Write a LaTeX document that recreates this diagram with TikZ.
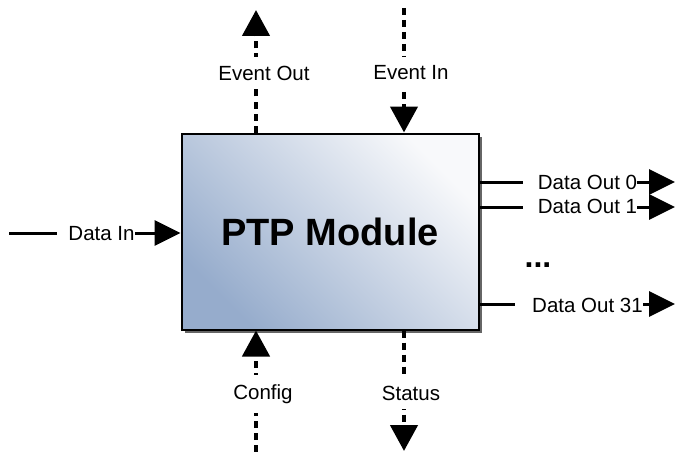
\documentclass[tikz,border=0pt]{standalone}
\usepackage{fontspec}
\setmainfont{Liberation Sans}
\usetikzlibrary{arrows.meta,shadows}
\definecolor{boxdark}{RGB}{150,172,204}
\definecolor{boxmid}{RGB}{208,218,232}
\definecolor{boxlight}{RGB}{248,249,251}
\begin{document}
\begin{tikzpicture}[x=1pt,y=-1pt,
  lbl/.style={fill=white, inner xsep=0pt, inner ysep=4pt, font=\fontsize{20.5}{24}\selectfont},
  vlbl/.style={fill=white, inner xsep=3pt, inner ysep=9pt, font=\fontsize{20.5}{24}\selectfont},
  dasharrow/.style={line width=4.5pt, dash pattern=on 7pt off 5pt, -{Triangle[length=26pt,width=27pt]}},
  solidarrow/.style={line width=3pt, -{Triangle[length=26pt,width=25pt]}},
]
\useasboundingbox (0,0) rectangle (675,452);
\node[draw, line width=2pt, minimum width=297pt, minimum height=196pt,
      top color=boxlight, middle color=boxmid, bottom color=boxdark, shading angle=-45,
      drop shadow={shadow xshift=3pt, shadow yshift=-3pt, fill=black!60, opacity=1},
      font=\fontsize{38}{44}\selectfont\bfseries] (box) at (330,231.5) {PTP Module};
% top
\coordinate (eoT) at (256,10);
\draw[dasharrow] (box.north -| eoT) -- (eoT);
\node[vlbl] (leo) at (264,73) {Event Out};
\coordinate (eiS) at (404,8);
\draw[dasharrow] (eiS) -- (eiS |- box.north);
\node[vlbl] (lei) at (411,73) {Event In};
% bottom
\coordinate (cfS) at (256,452);
\draw[dasharrow] (cfS) -- (cfS |- box.south);
\node[vlbl] (lcf) at (263,394) {Config};
\coordinate (stT) at (404,451);
\draw[dasharrow] (box.south -| stT) -- (stT);
\node[vlbl] (lst) at (411,393) {Status};
% left
\coordinate (diS) at (9,233);
\draw[solidarrow] (diS) -- (diS -| box.west);
\node[lbl] (ldi) at (96,234) {\hspace*{11pt}Data In};
% right
\coordinate (d0) at (675,182);
\draw[solidarrow] (box.east |- d0) -- (d0);
\node[lbl] (ld0) at (580,182) {\hspace*{15pt}Data Out 0};
\coordinate (d1) at (675,207);
\draw[solidarrow] (box.east |- d1) -- (d1);
\node[lbl] (ld1) at (580,206) {\hspace*{15pt}Data Out 1};
\coordinate (d31) at (675,304);
\draw[solidarrow] (box.east |- d31) -- (d31);
\node[lbl] (ld31) at (579,305) {\hspace*{17pt}Data Out 31};
\node[font=\fontsize{32}{36}\selectfont\bfseries] (dots) at (538,265) {...};
\end{tikzpicture}
\end{document}
